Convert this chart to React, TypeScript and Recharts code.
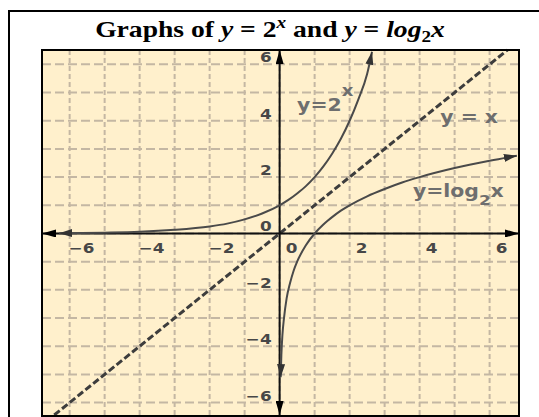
import React from 'react';
import { LineChart, Line, XAxis, YAxis, CartesianGrid, ReferenceLine, ReferenceDot } from 'recharts';

// visible window of the plot, in graph units
const xDomain = [-6.79, 6.84];
const yDomain = [-6.44, 6.51];
const gridTicks = [-6, -5, -4, -3, -2, -1, 0, 1, 2, 3, 4, 5, 6];

const expX = [-6.3, -5, -4, -3, -2, -1.5, -1, -0.5, 0, 0.25, 0.5, 0.75, 1, 1.25, 1.5, 1.75, 2, 2.25, 2.5, 2.64];
const expY = [0.01, 0.03, 0.06, 0.13, 0.25, 0.35, 0.5, 0.71, 1, 1.19, 1.42, 1.68, 2, 2.38, 2.83, 3.36, 4, 4.76, 5.66, 6.45];

const logX = [0.03, 0.05, 0.08, 0.125, 0.2, 0.3, 0.4, 0.5, 0.75, 1, 1.25, 1.5, 1.75, 2, 2.5, 3, 3.5, 4, 5, 6, 6.78];
const logY = [-5.1, -4.3, -3.6, -3, -2.3, -1.75, -1.32, -1, -0.42, 0, 0.32, 0.58, 0.81, 1, 1.32, 1.58, 1.81, 2, 2.32, 2.58, 2.76];

// axis numbers
const xTickValues = [-6, -4, -2, 0, 2, 4, 6];
const xTickLabels = ['−6', '−4', '−2', '0', '2', '4', '6'];
const yTickValues = [6, 4, 2, 0, -2, -4, -6];
const yTickLabels = ['6', '4', '2', '0', '−2', '−4', '−6'];

const expData = expX.map((x, i) => ({ x, y: expY[i] }));
const logData = logX.map((x, i) => ({ x, y: logY[i] }));

const tickFont = { fontFamily: '"DejaVu Sans", sans-serif', fontSize: 14, fontWeight: 'bold', fill: '#474747' };
const curveFont = { fontFamily: '"DejaVu Sans", sans-serif', fontSize: 17, fontWeight: 'bold', fill: '#6e6e6e' };

const xTickShape = (label: string) => (p: any) => (
  <text transform={`translate(${p.cx + 12},${p.cy + 20}) scale(1.2,1)`} textAnchor="middle" {...tickFont}>
    {label}
  </text>
);

const yTickShape = (label: string) => (p: any) => (
  <text transform={`translate(${p.cx - 8},${p.cy - 2}) scale(1.2,1)`} textAnchor="end" {...tickFont}>
    {label}
  </text>
);

const expLabel = (p: any) => (
  <text transform={`translate(${p.cx},${p.cy}) scale(1.2,1)`} {...curveFont}>
    y=2
    <tspan dy={-15} fontSize={15}>x</tspan>
  </text>
);

const identityLabel = (p: any) => (
  <text transform={`translate(${p.cx},${p.cy}) scale(1.2,1)`} {...curveFont}>
    y = x
  </text>
);

const logLabel = (p: any) => (
  <text transform={`translate(${p.cx},${p.cy}) scale(1.2,1)`} {...curveFont}>
    y=log
    <tspan dy={8} fontSize={14}>2</tspan>
    <tspan dy={-8}>x</tspan>
  </text>
);

const App = () => {
  return (
    <div style={{ position: 'fixed', left: 0, top: 0, width: 539, height: 417, overflow: 'hidden', background: '#fff' }}>
      <div
        style={{
          position: 'absolute',
          left: 8,
          top: 10,
          width: 540,
          height: 420,
          borderTop: '2px solid #000',
          borderLeft: '2px solid #000',
          boxSizing: 'border-box',
        }}
      />
      <div
        style={{
          position: 'absolute',
          left: 8,
          top: 17,
          width: 524,
          textAlign: 'center',
          fontFamily: '"Liberation Serif", serif',
          fontWeight: 'bold',
          fontSize: 23,
          lineHeight: '26px',
          whiteSpace: 'nowrap',
          transform: 'scaleX(1.2)',
          transformOrigin: '50% 50%',
        }}
      >
        Graphs of <i>y</i> = 2<span style={{ fontStyle: 'italic', fontSize: 16, position: 'relative', top: -9 }}>x</span> and{' '}
        <i>y</i> = <i>log</i>
        <span style={{ fontSize: 16, position: 'relative', top: 5 }}>2</span>
        <i>x</i>
      </div>
      <div style={{ position: 'absolute', left: 32, top: 40 }}>
        <LineChart width={497} height={385} margin={{ top: 10, right: 10, bottom: 10, left: 10 }}>
          <defs>
            <marker
              id="arrowAxis"
              viewBox="0 0 14 8"
              refX={14}
              refY={4}
              markerWidth={14}
              markerHeight={8}
              markerUnits="userSpaceOnUse"
              orient="auto-start-reverse"
            >
              <path d="M0,0 L14,4 L0,8 Z" fill="#000" />
            </marker>
            <marker
              id="arrowCurve"
              viewBox="0 0 13 8"
              refX={13}
              refY={4}
              markerWidth={13}
              markerHeight={8}
              markerUnits="userSpaceOnUse"
              orient="auto-start-reverse"
            >
              <path d="M0,0 L13,4 L0,8 Z" fill="#333" />
            </marker>
          </defs>
          <CartesianGrid
            horizontal={false}
            verticalValues={gridTicks}
            stroke="#c4b7a3"
            strokeWidth={2}
            strokeDasharray="5 3"
            fill="#fff0cc"
            fillOpacity={1}
          />
          <CartesianGrid
            vertical={false}
            horizontalValues={gridTicks}
            stroke="#c4b7a3"
            strokeWidth={2}
            strokeDasharray="9 4"
          />
          <XAxis type="number" dataKey="x" domain={xDomain} ticks={gridTicks} allowDataOverflow hide />
          <YAxis type="number" dataKey="y" domain={yDomain} ticks={gridTicks} allowDataOverflow hide />

          <ReferenceLine
            segment={[{ x: yDomain[0], y: yDomain[0] }, { x: yDomain[1], y: yDomain[1] }]}
            stroke="#3d3d3d"
            strokeWidth={3}
            strokeDasharray="7 3"
            ifOverflow="visible"
          />
          <ReferenceLine
            segment={[{ x: xDomain[0], y: 0 }, { x: xDomain[1], y: 0 }]}
            stroke="#111"
            strokeWidth={2}
            markerStart="url(#arrowAxis)"
            markerEnd="url(#arrowAxis)"
            ifOverflow="visible"
          />
          <ReferenceLine
            segment={[{ x: 0, y: yDomain[0] }, { x: 0, y: yDomain[1] }]}
            stroke="#111"
            strokeWidth={2}
            markerStart="url(#arrowAxis)"
            markerEnd="url(#arrowAxis)"
            ifOverflow="visible"
          />

          <Line
            data={expData}
            dataKey="y"
            type="monotone"
            stroke="#4a4a4a"
            strokeWidth={2}
            dot={false}
            activeDot={false}
            markerStart="url(#arrowCurve)"
            markerEnd="url(#arrowCurve)"
            isAnimationActive={false}
          />
          <Line
            data={logData}
            dataKey="y"
            type="monotone"
            stroke="#4a4a4a"
            strokeWidth={2}
            dot={false}
            activeDot={false}
            markerStart="url(#arrowCurve)"
            markerEnd="url(#arrowCurve)"
            isAnimationActive={false}
          />

          {xTickValues.map((v, i) => (
            <ReferenceDot key={`xt-${v}`} x={v} y={0} r={0} shape={xTickShape(xTickLabels[i])} ifOverflow="visible" />
          ))}
          {yTickValues.map((v, i) => (
            <ReferenceDot key={`yt-${v}`} x={0} y={v} r={0} shape={yTickShape(yTickLabels[i])} ifOverflow="visible" />
          ))}

          <ReferenceDot x={0.5} y={4.35} r={0} shape={expLabel} ifOverflow="visible" />
          <ReferenceDot x={4.59} y={3.92} r={0} shape={identityLabel} ifOverflow="visible" />
          <ReferenceDot x={3.81} y={1.3} r={0} shape={logLabel} ifOverflow="visible" />
        </LineChart>
      </div>
      <div
        style={{
          position: 'absolute',
          left: 41,
          top: 49,
          width: 479,
          height: 368,
          border: '2px solid #000',
          boxSizing: 'border-box',
          pointerEvents: 'none',
        }}
      />
    </div>
  );
};

export default App;
